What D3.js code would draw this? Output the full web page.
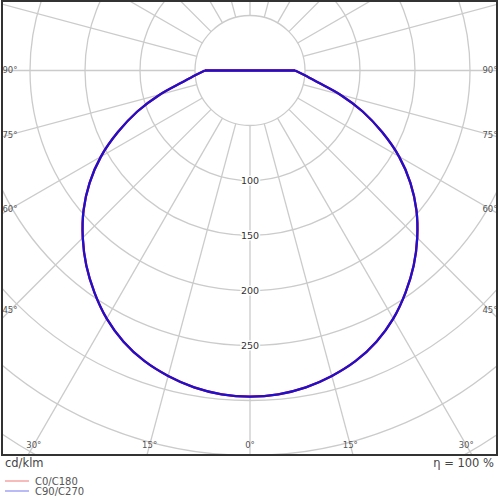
<!DOCTYPE html>
<html>
<head>
<meta charset="utf-8">
<script src="https://cdn.jsdelivr.net/npm/d3@7"></script>
<style>
  body { margin: 0; background: #fff; }
  svg { display: block; font-family: "DejaVu Sans", sans-serif; }
</style>
</head>
<body>
<div id="chart"></div>
<script>
// gamma angles (deg from nadir) and intensities in cd/klm
const gammas = d3.range(0, 181, 5);
const c0c180 = [296.5, 295.5, 292.5, 287.5, 281, 272, 260.5, 246.5, 231.5, 215, 197.5, 178, 156.5, 132.5, 109, 85, 63, 50, 41,
  0, 0, 0, 0, 0, 0, 0, 0, 0, 0, 0, 0, 0, 0, 0, 0, 0, 0, 0];
const c90c270 = [296.5, 295.5, 292.5, 287.5, 281, 272, 260.5, 246.5, 231.5, 215, 197.5, 178, 156.5, 132.5, 109, 85, 63, 50, 41,
  0, 0, 0, 0, 0, 0, 0, 0, 0, 0, 0, 0, 0, 0, 0, 0, 0, 0, 0];
const rings = [50, 100, 150, 200, 250, 300, 350, 400, 450];
const ringLabels = [100, 150, 200, 250];
const spokes = d3.range(0, 360, 15);
const angleLabels = [0, 15, 30, 45, 60, 75, 90];
const series = [
  {name: "C0/C180", values: c0c180, color: "#ff0000", legend: "#f7a3a3"},
  {name: "C90/C270", values: c90c270, color: "#1c10d2", legend: "#a3a3f7"}
];

const W = 500, H = 500;
const frame = {x0: 2, y0: 1, x1: 497, y1: 455};
const cx = 250, cy = 70.5;

const r = d3.scaleLinear().domain([0, 50]).range([0, 55]);
const rad = d => d * Math.PI / 180;

const svg = d3.select("#chart").append("svg")
  .attr("width", W).attr("height", H);

svg.append("clipPath").attr("id", "clip")
  .append("rect")
  .attr("x", frame.x0).attr("y", frame.y0)
  .attr("width", frame.x1 - frame.x0).attr("height", frame.y1 - frame.y0);

const plot = svg.append("g").attr("clip-path", "url(#clip)");
const g = plot.append("g").attr("transform", `translate(${cx},${cy})`);

// spokes start at the 50 ring
g.selectAll(".spoke")
  .data(spokes)
  .enter().append("line")
  .attr("x1", d => r(50) * Math.sin(rad(d)))
  .attr("y1", d => r(50) * Math.cos(rad(d)))
  .attr("x2", d => r(600) * Math.sin(rad(d)))
  .attr("y2", d => r(600) * Math.cos(rad(d)))
  .attr("stroke", "#cbcbcb")
  .attr("stroke-width", 1.3);

g.selectAll(".ring")
  .data(rings)
  .enter().append("circle")
  .attr("r", d => r(d))
  .attr("fill", "none")
  .attr("stroke", "#cbcbcb")
  .attr("stroke-width", 1.3);

g.selectAll(".rlabel")
  .data(ringLabels)
  .enter().append("text")
  .attr("x", 0)
  .attr("y", d => r(d))
  .attr("dy", "0.35em")
  .attr("text-anchor", "middle")
  .style("font-size", "9.5px")
  .style("fill", "#333")
  .style("stroke", "#fff")
  .style("stroke-width", 3)
  .style("paint-order", "stroke")
  .text(d => d);

// curves: smooth lit part (left 90 -> 0 -> right 90), straight part through the centre
const smooth = d3.lineRadial().angle(d => d.a).radius(d => r(d.v)).curve(d3.curveCatmullRom.alpha(0.5));
const straight = d3.lineRadial().angle(d => d.a).radius(d => r(d.v));

series.forEach(s => {
  const lit = [], dark = [];
  gammas.forEach((gm, i) => {
    if (gm <= 90) {
      lit.push({gm: -gm, a: Math.PI + rad(gm), v: s.values[i]});
      if (gm > 0) lit.push({gm: gm, a: Math.PI - rad(gm), v: s.values[i]});
    }
    if (gm >= 90) {
      dark.push({gm: -gm, a: Math.PI + rad(gm), v: s.values[i]});
      dark.push({gm: gm, a: Math.PI - rad(gm), v: s.values[i]});
    }
  });
  lit.sort((p, q) => p.gm - q.gm);
  dark.sort((p, q) => p.gm - q.gm);
  const gs = g.append("g")
    .attr("fill", "none")
    .attr("stroke", s.color)
    .attr("stroke-width", 2.3)
    .attr("stroke-linejoin", "round");
  gs.append("path").datum(lit).attr("d", smooth);
  gs.append("path").datum(dark.filter(p => p.gm < 0)).attr("d", straight);
  gs.append("path").datum(dark.filter(p => p.gm > 0)).attr("d", straight);
});

// angle labels where spokes meet an inset box
const inset = {x0: 10, x1: 490, y1: 445};
angleLabels.forEach(a => {
  [-1, 1].forEach(side => {
    if (a === 0 && side === -1) return;
    const sx = Math.sin(rad(a)), sy = Math.cos(rad(a));
    let t = Infinity;
    if (sx > 1e-6) t = Math.min(t, (inset.x1 - cx) / sx);
    if (sy > 1e-6) t = Math.min(t, (inset.y1 - cy) / sy);
    const px = cx + side * t * sx, py = cy + t * sy;
    svg.append("text")
      .attr("x", px).attr("y", py)
      .attr("dy", "0.35em")
      .attr("text-anchor", "middle")
      .style("font-size", "8.5px")
      .style("fill", "#555")
      .text(a + "°");
  });
});

svg.append("rect")
  .attr("x", frame.x0).attr("y", frame.y0)
  .attr("width", frame.x1 - frame.x0).attr("height", frame.y1 - frame.y0)
  .attr("fill", "none")
  .attr("stroke", "#333")
  .attr("stroke-width", 2);

svg.append("text")
  .attr("x", 5).attr("y", 463).attr("dy", "0.35em")
  .style("font-size", "11.5px").style("fill", "#444")
  .text("cd/klm");

svg.append("text")
  .attr("x", 494).attr("y", 463).attr("dy", "0.35em")
  .attr("text-anchor", "end")
  .style("font-size", "11.5px").style("fill", "#444")
  .text("η = 100 %");

const legend = svg.selectAll(".legend")
  .data(series)
  .enter().append("g")
  .attr("transform", (d, i) => `translate(5,${481 + i * 10})`);

legend.append("line")
  .attr("x1", 0).attr("x2", 24)
  .attr("stroke", d => d.legend)
  .attr("stroke-width", 1.5);

legend.append("text")
  .attr("x", 30).attr("dy", "0.35em")
  .style("font-size", "10px").style("fill", "#555")
  .text(d => d.name);
</script>
</body>
</html>
